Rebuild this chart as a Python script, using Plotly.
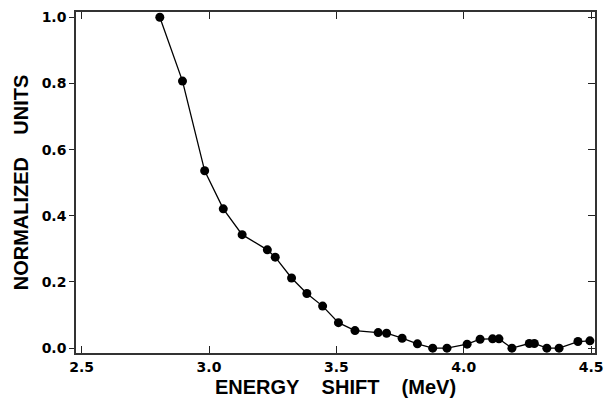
import plotly.graph_objects as go

energy = [2.807, 2.896, 2.983, 3.056, 3.130, 3.229, 3.260, 3.324, 3.384, 3.446,
          3.508, 3.573, 3.664, 3.697, 3.758, 3.818, 3.878, 3.934, 4.013, 4.064,
          4.113, 4.138, 4.189, 4.257, 4.277, 4.326, 4.374, 4.448, 4.495]
norm = [1.000, 0.807, 0.536, 0.421, 0.343, 0.297, 0.275, 0.212, 0.165, 0.127,
        0.077, 0.053, 0.047, 0.045, 0.030, 0.013, 0.000, 0.000, 0.012, 0.027,
        0.028, 0.028, 0.000, 0.014, 0.014, 0.000, 0.000, 0.020, 0.022]
xticks = [2.5, 3.0, 3.5, 4.0, 4.5]
xticklabels = ["2.5", "3.0", "3.5", "4.0", "4.5"]
yticks = [0.0, 0.2, 0.4, 0.6, 0.8, 1.0]
yticklabels = ["0.0", "0.2", "0.4", "0.6", "0.8", "1.0"]

TICKFONT = "DejaVu Sans"
TITLEFONT = "Liberation Sans"
XR = [2.478, 4.515]
YR = [-0.0147, 1.0159]
GAP = "\u00a0" * 4

fig = go.Figure()
fig.add_trace(go.Scatter(x=energy, y=norm, mode="lines+markers",
                         line=dict(color="black", width=1.3),
                         marker=dict(color="black", size=9),
                         showlegend=False, hoverinfo="skip"))
fig.add_trace(go.Scatter(x=[], y=[], yaxis="y2", showlegend=False))

fig.update_layout(
    width=613, height=404,
    margin=dict(l=76, r=15, t=9, b=51),
    paper_bgcolor="white", plot_bgcolor="white",
    font=dict(family=TICKFONT, color="black"),
    xaxis=dict(range=XR, tickvals=xticks, ticktext=xticklabels,
               ticks="inside", ticklen=7, tickwidth=1.2, tickcolor="#222",
               mirror="ticks", showline=True, linecolor="#333", linewidth=1.5,
               showgrid=False, zeroline=False,
               tickfont=dict(family=TICKFONT, size=14, weight="bold"),
               title=dict(text="ENERGY" + GAP + "SHIFT" + GAP + "(MeV)",
                          font=dict(family=TITLEFONT, size=20, weight="bold"),
                          standoff=6)),
    yaxis=dict(range=YR, tickvals=yticks, ticktext=yticklabels,
               ticks="outside", ticklen=5, tickwidth=1.2, tickcolor="#222",
               showline=True, linecolor="#333", linewidth=1.5,
               showgrid=False, zeroline=False,
               tickfont=dict(family=TICKFONT, size=14, weight="bold"),
               title=dict(text="NORMALIZED" + GAP + "UNITS",
                          font=dict(family=TITLEFONT, size=20, weight="bold"),
                          standoff=8)),
    yaxis2=dict(range=YR, tickvals=yticks, overlaying="y", side="right",
                ticks="inside", ticklen=7, tickwidth=1.2, tickcolor="#222",
                showticklabels=False, showline=True, linecolor="#333",
                linewidth=1.5, showgrid=False, zeroline=False),
)

fig.write_html("out.html")
